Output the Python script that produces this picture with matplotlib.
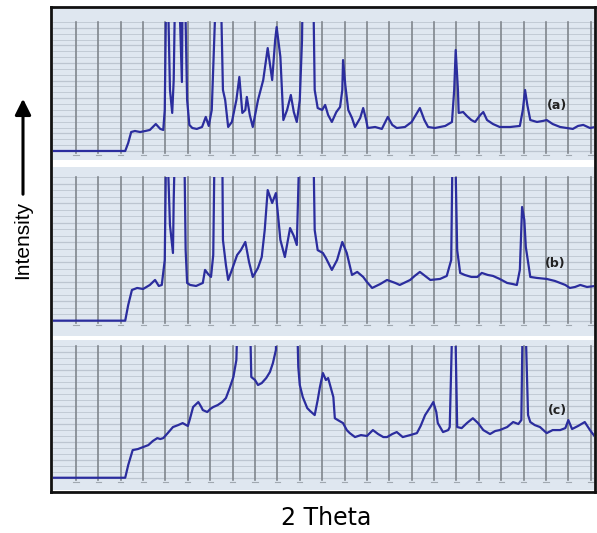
import numpy as np
import matplotlib.pyplot as plt
from matplotlib.patches import Rectangle, FancyArrowPatch

# 2-theta positions (deg) and relative intensity (%) for the three samples.
# values above 100 run off the top of the chart window
theta_a = [-0.2, 9.6, 10.0, 10.4, 10.9, 11.6, 12.3, 12.9, 13.7, 14.3, 14.7, 14.9, 15.1, 15.3, 15.6,
           15.9, 16.1, 16.3, 16.8, 17.2, 17.3, 17.6, 17.9, 18.2, 18.6, 19.2, 19.9, 20.4, 20.8, 21.2,
           21.8, 22.4, 22.7, 23.0, 23.4, 23.9, 24.5, 24.9, 25.3, 25.7, 25.9, 26.3, 26.7, 27.4, 28.1,
           28.7, 29.3, 29.7, 29.9, 30.4, 30.8, 31.3, 31.8, 32.2, 32.6, 33.0, 33.3, 33.4, 34.8, 35.0,
           35.4, 36.0, 36.4, 36.8, 37.3, 37.9, 38.4, 38.7, 38.8, 39.1, 39.5, 40.0, 40.4, 41.1, 41.5,
           41.9, 42.1, 43.1, 44.0, 44.8, 45.4, 46.0, 47.1, 48.0, 49.1, 49.7, 50.2, 51.1, 52.5, 53.4,
           53.7, 53.9, 54.2, 54.3, 54.9, 55.4, 56.0, 56.5, 57.2, 57.6, 58.1, 58.9, 59.8, 61.2, 62.5,
           62.9, 63.2, 63.5, 63.9, 64.8, 65.6, 66.1, 66.9, 67.9, 68.8, 69.6, 70.3, 71.0, 71.9, 72.6]
int_a = [0, 0, 6.2, 14.7, 15.5, 14.7, 15.5, 16.3, 20.9, 17.1, 16.3, 31.8, 130, 130, 47.3,
         29.5, 55.0, 130, 130, 53.5, 130, 130, 39.5, 20.2, 17.8, 17.1, 18.6, 26.4, 19.4, 31.8,
         130, 130, 47.3, 39.5, 18.6, 22.5, 39.5, 57.4, 29.5, 31.8, 41.9, 27.9, 18.6, 39.5, 55.0,
         79.8, 55.0, 86.0, 96.1, 72.9, 24.0, 31.8, 43.4, 30.2, 22.5, 39.5, 86.0, 130, 130, 47.3,
         33.3, 31.8, 35.7, 27.9, 22.5, 30.2, 34.1, 47.3, 70.5, 51.2, 31.8, 25.6, 18.6, 25.6, 33.3,
         24.0, 17.8, 18.6, 17.1, 26.4, 20.2, 17.8, 18.6, 22.5, 33.3, 24.0, 18.6, 17.8, 19.4, 22.5,
         47.3, 78.3, 47.3, 29.5, 30.2, 27.1, 24.0, 22.5, 27.9, 30.2, 24.0, 20.9, 18.6, 18.6, 19.4,
         31.8, 47.3, 35.7, 24.0, 22.5, 23.3, 24.0, 20.9, 18.6, 17.8, 17.1, 19.4, 20.2, 17.8, 18.6]

theta_b = [-0.2, 9.6, 10.0, 10.5, 11.2, 12.0, 12.9, 13.6, 14.1, 14.5, 14.9, 15.1, 15.2, 15.6,
           16.0, 16.1, 16.3, 17.5, 17.7, 17.9, 18.3, 19.1, 20.0, 20.3, 20.7, 21.1, 21.4, 21.6,
           22.6, 22.7, 23.1, 23.4, 23.9, 24.6, 25.1, 25.7, 26.2, 26.7, 27.4, 27.9, 28.3, 28.7,
           29.3, 29.8, 30.4, 31.0, 31.7, 32.2, 32.6, 33.0, 34.8, 35.0, 35.4, 36.1, 36.5, 37.3,
           38.0, 38.7, 39.3, 40.0, 40.7, 41.5, 42.0, 42.7, 43.8, 44.7, 45.8, 46.4, 47.8, 48.4,
           49.1, 49.8, 50.5, 51.8, 52.7, 53.3, 53.5, 53.8, 54.1, 54.5, 55.1, 56.0, 56.8, 57.4,
           58.2, 58.9, 59.8, 60.8, 61.5, 62.1, 62.5, 62.8, 63.1, 63.3, 63.9, 64.8, 66.1, 67.2,
           67.9, 68.6, 69.2, 69.9, 70.6, 71.5, 72.6]
int_b = [0, 0, 10.9, 21.4, 22.8, 22.1, 24.9, 28.4, 24.2, 24.9, 42.3, 130, 130, 66.7,
         47.2, 84.2, 130, 130, 49.2, 26.3, 24.9, 24.2, 26.3, 35.4, 32.6, 30.5, 45.8, 130,
         130, 56.3, 38.8, 28.4, 35.4, 45.8, 49.2, 54.9, 40.9, 30.5, 36.8, 44.4, 63.2, 91.1,
         82.1, 89.0, 56.3, 44.4, 64.6, 59.1, 52.8, 130, 130, 63.2, 49.2, 47.2, 43.7, 35.4,
         42.3, 54.9, 47.2, 31.9, 34.0, 30.5, 27.0, 22.8, 25.6, 28.4, 26.3, 24.9, 28.4, 31.2,
         34.0, 31.2, 28.4, 29.1, 31.2, 42.3, 130, 130, 49.2, 33.3, 31.9, 30.5, 30.5, 33.3,
         31.9, 31.2, 29.1, 26.3, 25.6, 24.9, 35.4, 79.3, 70.2, 51.4, 30.5, 29.8, 29.1, 27.7,
         26.3, 24.9, 22.8, 23.5, 24.9, 23.5, 24.2]

theta_c = [-0.2, 9.6, 10.0, 10.6, 11.3, 12.0, 12.7, 13.3, 13.9, 14.3, 14.7, 15.3, 16.0, 16.7,
           17.3, 18.0, 18.3, 18.7, 19.4, 19.8, 20.0, 20.6, 21.0, 21.4, 22.0, 22.6, 23.1, 23.6,
           24.1, 24.5, 24.7, 26.3, 26.5, 27.0, 27.4, 27.9, 28.5, 29.0, 29.4, 29.8, 29.9, 32.6,
           32.8, 33.0, 33.4, 34.0, 34.4, 35.0, 35.4, 35.7, 36.1, 36.5, 36.8, 37.5, 37.7, 38.1,
           38.8, 39.3, 39.7, 40.4, 41.2, 42.0, 42.8, 43.5, 44.2, 44.7, 45.4, 46.0, 46.8, 47.8,
           48.7, 49.2, 49.8, 50.5, 50.9, 51.3, 51.5, 52.2, 52.9, 53.1, 53.5, 53.8, 54.1, 54.7,
           55.4, 56.2, 56.9, 57.6, 58.5, 59.2, 59.8, 60.8, 61.6, 62.3, 62.7, 62.9, 63.2, 63.6,
           63.9, 64.5, 65.2, 66.1, 66.9, 67.9, 68.6, 69.0, 69.5, 70.3, 71.2, 71.9, 72.6]
int_c = [0, 0, 9.6, 21.0, 21.8, 23.3, 24.8, 27.9, 30.1, 29.4, 30.1, 33.9, 38.5, 40.0,
         41.5, 39.3, 45.2, 53.7, 57.5, 53.7, 51.4, 49.9, 52.2, 53.7, 55.2, 57.5, 60.5, 68.1,
         76.5, 89.4, 130, 130, 76.5, 74.2, 70.4, 71.9, 75.7, 80.3, 87.1, 97.0, 130, 130,
         84.1, 70.4, 61.3, 52.9, 50.6, 47.6, 59.0, 68.9, 79.5, 74.2, 75.7, 61.3, 45.2, 43.8,
         41.5, 36.2, 33.9, 30.9, 32.4, 31.7, 36.2, 33.2, 30.9, 30.9, 33.2, 34.7, 30.9, 32.4,
         33.9, 39.3, 47.6, 53.7, 57.5, 49.9, 41.5, 34.7, 36.2, 38.5, 130, 130, 38.5, 37.7,
         41.5, 45.2, 41.5, 36.2, 33.2, 35.5, 36.2, 38.5, 42.3, 40.8, 43.8, 130, 130, 47.6,
         42.3, 40.0, 38.5, 33.9, 36.2, 36.2, 37.7, 43.8, 37.0, 39.3, 42.3, 36.2, 30.9]

samples = ["(a)", "(b)", "(c)"]
label_pos = [(67.5, 34.9), (67.2, 40.2), (67.5, 51.4)]
grid_theta = np.arange(3, 73, 3)

W, H = 597, 533
fig = plt.figure(figsize=(W / 100, H / 100), dpi=100)
fig.patch.set_facecolor("white")


def px_box(x0, y0, x1, y1):
    # pixel box (top-left origin) -> figure fraction rect
    return [x0 / W, 1 - y1 / H, (x1 - x0) / W, (y1 - y0) / H]


# panel boxes in pixels and their y-limits
panels = [
    (px_box(53, 9, 594, 160), (-7.0, 110.1)),
    (px_box(53, 167, 594, 336), (-10.7, 107.2)),
    (px_box(53, 340, 594, 490), (-9.3, 104.6)),
]
series = [(theta_a, int_a), (theta_b, int_b), (theta_c, int_c)]
xlim = (-0.08, 72.44)

for (rect, ylim), (tx, iy), lab, lpos in zip(panels, series, samples, label_pos):
    ax = fig.add_axes(rect)
    ax.set_facecolor("#dfe7f0")
    ax.set_xlim(*xlim)
    ax.set_ylim(*ylim)
    for s in ax.spines.values():
        s.set_visible(False)
    ax.set_xticks([])
    ax.set_yticks([])

    # horizontal chart rules
    for k, yy in enumerate(np.linspace(0, 100, 23)):
        ax.plot(xlim, [yy, yy], color="#aab4bf", lw=0.6 if k % 3 else 0.9,
                alpha=0.65, zorder=1)
    # vertical chart rules + little tick marks under the baseline
    for g in grid_theta:
        ax.plot([g, g], [-1.5, 100], color="#80868d", lw=1.2, zorder=2)
        ax.plot([g - 0.35, g + 0.35], [-3, -3], color="#a0a8b0", lw=0.8, zorder=2)

    line, = ax.plot(tx, iy, color="#2b2d9e", lw=1.6, zorder=3)
    clip = Rectangle((xlim[0], ylim[0]), xlim[1] - xlim[0], 100 - ylim[0],
                     transform=ax.transData, fill=False, lw=0)
    ax.add_patch(clip)
    line.set_clip_path(clip)

    ax.text(lpos[0], lpos[1], lab, fontsize=9, fontweight="bold",
            color="#222222", ha="center", va="center", zorder=4)

# outer frame around the three panels
frame = fig.add_axes(px_box(51, 7, 595, 492))
frame.patch.set_visible(False)
frame.set_xticks([])
frame.set_yticks([])
for s in frame.spines.values():
    s.set_linewidth(2)
    s.set_color("#111111")

# intensity arrow and axis captions
fig.text(23 / W, 1 - 240 / H, "Intensity", rotation=90, fontsize=15,
         family="Liberation Sans", ha="center", va="center")
fig.add_artist(FancyArrowPatch(
    (23 / W, 1 - 197 / H), (23 / W, 1 - 96 / H), transform=fig.transFigure,
    arrowstyle="-|>", mutation_scale=24, lw=2.2, color="black"))
fig.text(326 / W, 1 - 518 / H, "2 Theta", fontsize=17, family="DejaVu Sans",
         ha="center", va="center")

fig.savefig("out.png", dpi=100)
